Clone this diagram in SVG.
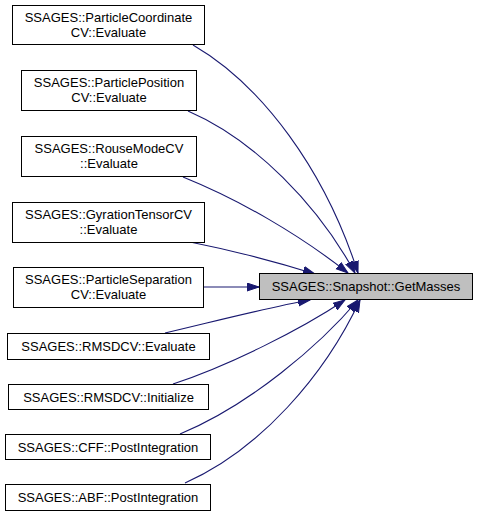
<svg xmlns="http://www.w3.org/2000/svg" width="480" height="517" viewBox="0 0 480 517">
<style>
.box{fill:#fff;stroke:#000;stroke-width:1}
.tgt{fill:#bfbfbf;stroke:#000;stroke-width:1}
text{font-family:"Liberation Sans",Arial,sans-serif;font-size:13px;fill:#000;text-anchor:middle}
.e{fill:none;stroke:#191970;stroke-width:1.1;marker-end:url(#ah)}
</style>
<defs>
<marker id="ah" markerUnits="userSpaceOnUse" markerWidth="13" markerHeight="10" refX="12" refY="4.5" orient="auto">
<path d="M0,0.5 L12,4.5 L0,8.5 z" fill="#191970" stroke="#191970"/>
</marker>
</defs>
<rect width="480" height="517" fill="#fff"/>
<g id="edges">
<path class="e" d="M193,45 C262,85 325,170 358,273"/>
<path class="e" d="M188,111 C255,140 318,205 355,273"/>
<path class="e" d="M183,177 C240,200 300,235 348,273"/>
<path class="e" d="M190,242 C240,252 280,263 315,274"/>
<path class="e" d="M204,287 L259,287"/>
<path class="e" d="M165,333 C220,320 270,307 310,300"/>
<path class="e" d="M173,384 C230,365 300,330 345,300"/>
<path class="e" d="M180,434 C250,405 320,345 358,300"/>
<path class="e" d="M185,483 C260,450 325,375 360,300"/>
</g>
<g id="n1"><rect class="box" x="12.5" y="5.5" width="192" height="39"/><text x="108.5" y="21.5">SSAGES::ParticleCoordinate</text><text x="108.5" y="36.5">CV::Evaluate</text></g>
<g id="n2"><rect class="box" x="21.5" y="70.5" width="175" height="40"/><text x="109" y="87">SSAGES::ParticlePosition</text><text x="109" y="102">CV::Evaluate</text></g>
<g id="n3"><rect class="box" x="21.5" y="136.5" width="175" height="40"/><text x="109" y="153">SSAGES::RouseModeCV</text><text x="109" y="168">::Evaluate</text></g>
<g id="n4"><rect class="box" x="12.5" y="202.5" width="192" height="40"/><text x="108.5" y="219">SSAGES::GyrationTensorCV</text><text x="108.5" y="234">::Evaluate</text></g>
<g id="n5"><rect class="box" x="13.5" y="267.5" width="190" height="40"/><text x="108.5" y="284">SSAGES::ParticleSeparation</text><text x="108.5" y="299">CV::Evaluate</text></g>
<g id="n6"><rect class="box" x="7.5" y="333.5" width="202" height="26"/><text x="108.5" y="351">SSAGES::RMSDCV::Evaluate</text></g>
<g id="n7"><rect class="box" x="8.5" y="384.5" width="200" height="25"/><text x="108.5" y="401.5">SSAGES::RMSDCV::Initialize</text></g>
<g id="n8"><rect class="box" x="5.5" y="434.5" width="205" height="25"/><text x="108" y="451.5">SSAGES::CFF::PostIntegration</text></g>
<g id="n9"><rect class="box" x="5.5" y="484.5" width="205" height="26"/><text x="108" y="502">SSAGES::ABF::PostIntegration</text></g>
<g id="target"><rect class="tgt" x="259.5" y="273.5" width="213" height="26"/><text x="366" y="291">SSAGES::Snapshot::GetMasses</text></g>
</svg>
